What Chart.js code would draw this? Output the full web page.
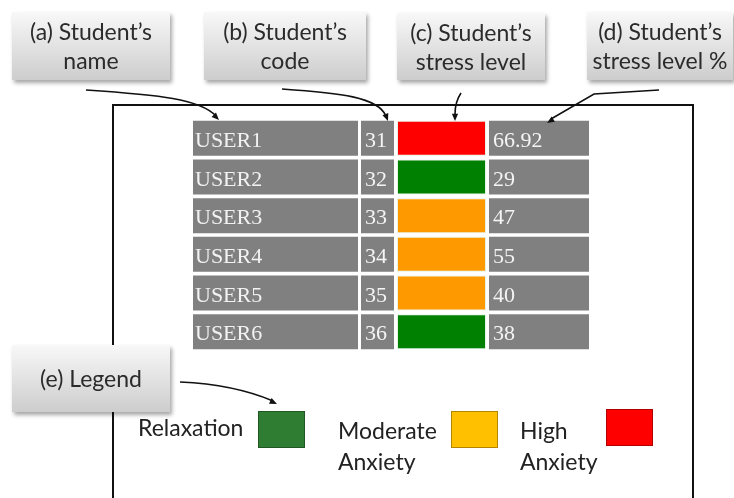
<!DOCTYPE html>
<html>
<head>
  <title>Student stress levels</title>
  <script src="https://cdn.jsdelivr.net/npm/chart.js@4"></script>
  <style>
    body {
      margin: 0;
      background: #fff;
      font-family: Lato, "Open Sans", sans-serif;
    }
    .stage {
      position: relative;
      width: 734px;
      height: 498px;
      overflow: hidden;
    }
    #chart {
      position: absolute;
      left: 0;
      top: 0;
    }
    .callout {
      position: absolute;
      box-sizing: border-box;
      display: flex;
      align-items: center;
      justify-content: center;
      text-align: center;
      font-size: 23px;
      line-height: 29px;
      color: #2b2b2b;
      background: linear-gradient(#f8f8f8, #cdcdcd);
      box-shadow: 2px 3px 4px rgba(0, 0, 0, 0.35);
      white-space: nowrap;
    }
    .legend-text {
      position: absolute;
      font-size: 23px;
      line-height: 31px;
      color: #222;
    }
    .swatch {
      position: absolute;
      box-sizing: border-box;
      width: 47px;
      height: 37px;
      border: 1px solid rgba(0, 0, 0, 0.3);
    }
  </style>
</head>
<body>
  <div class="stage">
    <canvas id="chart" width="734" height="498"></canvas>

    <div class="callout" style="left:12px;top:12px;width:158px;height:68px;">(a) Student’s<br>name</div>
    <div class="callout" style="left:204px;top:12px;width:162px;height:68px;">(b) Student’s<br>code</div>
    <div class="callout" style="left:397px;top:13px;width:148px;height:67px;">(c) Student’s<br>stress level</div>
    <div class="callout" style="left:587px;top:12px;width:146px;height:68px;">(d) Student’s<br>stress level %</div>
    <div class="callout" style="left:12px;top:345px;width:158px;height:67px;">(e) Legend</div>

    <div id="legend"></div>
  </div>

  <script>
    // table data
    const users = ['USER1', 'USER2', 'USER3', 'USER4', 'USER5', 'USER6'];
    const codes = [31, 32, 33, 34, 35, 36];
    const stressLevels = ['High', 'Relaxation', 'Moderate', 'Moderate', 'Moderate', 'Relaxation'];
    const stressPercent = [66.92, 29, 47, 55, 40, 38];

    // legend entries
    const legendLevels = ['Relaxation', 'Moderate', 'High'];
    const legendLabels = ['Relaxation', 'Moderate<br>Anxiety', 'High<br>Anxiety'];

    // colours
    const cellGray = '#808080';
    const levelColors = { High: '#ff0000', Moderate: '#ff9900', Relaxation: '#008000' };
    const legendColors = { High: '#ff0000', Moderate: '#ffc000', Relaxation: '#2e7d32' };

    // column spans along the x scale (name, code, level, %)
    const columns = [[0, 165], [168, 201], [204, 293], [296, 396]];

    // legend placement
    const legendText = [[138, 412], [338, 415], [520, 415]];
    const legendBox = [[258, 411], [451, 411], [606, 409]];

    const legendEl = document.getElementById('legend');
    legendLevels.forEach((lvl, i) => {
      const t = document.createElement('div');
      t.className = 'legend-text';
      t.style.left = legendText[i][0] + 'px';
      t.style.top = legendText[i][1] + 'px';
      t.innerHTML = legendLabels[i];
      legendEl.appendChild(t);
      const s = document.createElement('div');
      s.className = 'swatch';
      s.style.left = legendBox[i][0] + 'px';
      s.style.top = legendBox[i][1] + 'px';
      s.style.background = legendColors[lvl];
      legendEl.appendChild(s);
    });

    function arrowHead(ctx, fromX, fromY, x, y) {
      const a = Math.atan2(y - fromY, x - fromX);
      const len = 8;
      ctx.beginPath();
      ctx.moveTo(x, y);
      ctx.lineTo(x - len * Math.cos(a - 0.4), y - len * Math.sin(a - 0.4));
      ctx.lineTo(x - len * Math.cos(a + 0.4), y - len * Math.sin(a + 0.4));
      ctx.closePath();
      ctx.fill();
    }

    const framePlugin = {
      id: 'frame',
      beforeDraw(chart) {
        const ctx = chart.ctx;
        ctx.save();
        ctx.strokeStyle = '#111';
        ctx.lineWidth = 2;
        ctx.beginPath();
        ctx.moveTo(113, 500);
        ctx.lineTo(113, 105);
        ctx.lineTo(693, 105);
        ctx.lineTo(693, 500);
        ctx.stroke();
        ctx.restore();
      },
      afterDraw(chart) {
        const ctx = chart.ctx;
        ctx.save();
        ctx.strokeStyle = '#111';
        ctx.fillStyle = '#111';
        ctx.lineWidth = 1.6;
        // (a)
        ctx.beginPath();
        ctx.moveTo(86, 90);
        ctx.bezierCurveTo(160, 95, 200, 99, 216, 116);
        ctx.stroke();
        arrowHead(ctx, 205, 106, 219, 120);
        // (b)
        ctx.beginPath();
        ctx.moveTo(282, 89);
        ctx.bezierCurveTo(340, 93, 378, 97, 386, 116);
        ctx.stroke();
        arrowHead(ctx, 383, 108, 388, 121);
        // (c)
        ctx.beginPath();
        ctx.moveTo(461, 93);
        ctx.quadraticCurveTo(455, 102, 455, 114);
        ctx.stroke();
        arrowHead(ctx, 455, 108, 455, 121);
        // (d)
        ctx.beginPath();
        ctx.moveTo(659, 90);
        ctx.lineTo(594, 94);
        ctx.lineTo(551, 119);
        ctx.stroke();
        arrowHead(ctx, 594, 94, 547, 123);
        // (e)
        ctx.beginPath();
        ctx.moveTo(180, 382);
        ctx.bezierCurveTo(225, 384, 252, 392, 273, 401);
        ctx.stroke();
        arrowHead(ctx, 255, 394, 277, 404);
        ctx.restore();
      }
    };

    const cellTextPlugin = {
      id: 'cellText',
      afterDatasetsDraw(chart) {
        const ctx = chart.ctx;
        ctx.save();
        ctx.font = '22px "Liberation Serif", serif';
        ctx.fillStyle = '#f4f4f4';
        ctx.textBaseline = 'middle';
        ctx.textAlign = 'left';
        chart.getDatasetMeta(1).data.forEach((bar, i) => {
          ctx.fillText(String(codes[i]), Math.min(bar.x, bar.base) + 4, bar.y + 3);
        });
        chart.getDatasetMeta(3).data.forEach((bar, i) => {
          ctx.fillText(String(stressPercent[i]), Math.min(bar.x, bar.base) + 4, bar.y + 3);
        });
        ctx.restore();
      }
    };

    const datasets = columns.map((span, c) => ({
      data: users.map(() => span),
      backgroundColor: c === 2 ? stressLevels.map((l) => levelColors[l]) : cellGray,
      borderColor: c === 2 ? 'rgba(220, 240, 220, 0.8)' : cellGray,
      borderWidth: c === 2 ? 1 : 0,
      borderSkipped: false,
      grouped: false,
      barPercentage: 0.905,
      categoryPercentage: 1
    }));

    new Chart(document.getElementById('chart'), {
      type: 'bar',
      data: { labels: users, datasets: datasets },
      options: {
        indexAxis: 'y',
        responsive: false,
        animation: false,
        devicePixelRatio: 1,
        layout: { padding: { left: 193, right: 145, top: 119, bottom: 147 } },
        scales: {
          x: { display: false, min: 0, max: 396 },
          y: {
            grid: { display: false },
            border: { display: false },
            afterFit: (scale) => { scale.width = 0; },
            ticks: {
              mirror: true,
              padding: 2,
              labelOffset: 3,
              z: 1,
              color: '#f2f2f2',
              font: { family: '"Liberation Serif", serif', size: 22 }
            }
          }
        },
        plugins: {
          legend: { display: false },
          tooltip: { enabled: false }
        }
      },
      plugins: [framePlugin, cellTextPlugin]
    });
  </script>
</body>
</html>
